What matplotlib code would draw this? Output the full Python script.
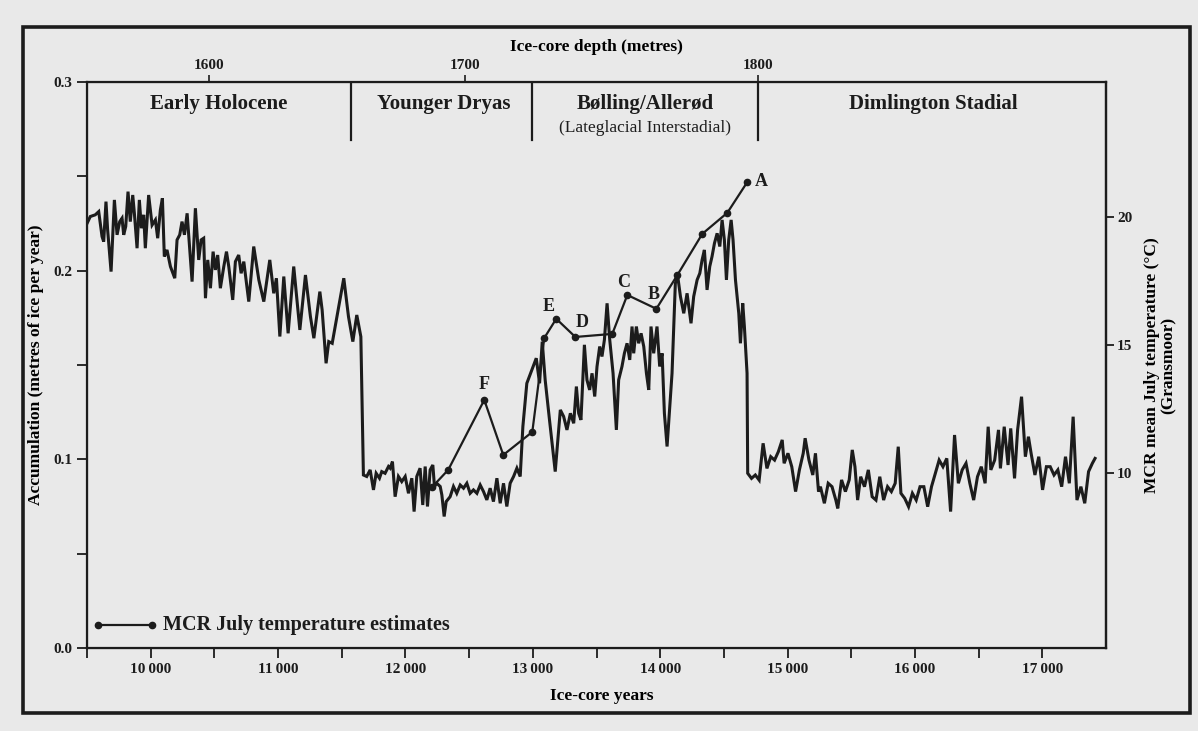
import numpy as np
import matplotlib.pyplot as plt
from matplotlib.patches import Rectangle

# Accumulation record (ice-core years, metres of ice per year)
acc_years = [
    9500, 9526, 9565, 9592, 9618, 9631, 9649, 9662, 9689, 9715, 9736, 9757, 9775, 9788, 9804,
    9822, 9840, 9859, 9872, 9893, 9911, 9927, 9945, 9958, 9984, 10011, 10037, 10055, 10076,
    10092, 10107, 10128, 10155, 10189, 10207, 10228, 10246, 10265, 10286, 10325, 10351, 10377,
    10396, 10416, 10430, 10448, 10469, 10490, 10508, 10526, 10547, 10574, 10595, 10613, 10644,
    10665, 10691, 10710, 10731, 10770, 10809, 10849, 10888, 10935, 10966, 10987, 11014, 11045,
    11079, 11123, 11171, 11215, 11254, 11281, 11328, 11346, 11377, 11398, 11425, 11469, 11516,
    11553, 11587, 11618, 11650,
    11670, 11696, 11723, 11749, 11770, 11796, 11814, 11840, 11867, 11880, 11898, 11919, 11945,
    11971, 11998, 12024, 12050, 12068, 12089, 12115, 12136, 12155, 12173, 12194, 12215, 12228,
    12246, 12273, 12286, 12304, 12320, 12351, 12377, 12403, 12430, 12456, 12482, 12508, 12534,
    12561, 12587, 12613, 12639, 12665, 12691, 12718, 12744, 12770, 12796, 12822, 12849, 12875,
    12901, 12922, 12953, 12993, 13027, 13053, 13074, 13097, 13131, 13176,
    13216, 13242, 13268, 13295, 13321, 13342, 13360, 13378, 13405, 13425, 13446, 13465, 13486,
    13504, 13525, 13543, 13562, 13583, 13604, 13630, 13656, 13674, 13700, 13719, 13740, 13761,
    13779, 13792, 13813, 13831, 13850, 13871, 13892, 13910, 13928, 13949, 13975, 13996, 14015,
    14033, 14054, 14093, 14119, 14138, 14159, 14185, 14211, 14242, 14263, 14290, 14311, 14329,
    14347, 14368, 14389, 14407, 14426, 14447, 14468, 14486, 14504, 14520, 14538, 14557, 14572,
    14591, 14617, 14630, 14648, 14661, 14682,
    14687, 14717, 14747, 14777, 14808, 14838, 14868, 14898, 14928, 14958, 14973, 15003, 15033,
    15063, 15093, 15123, 15138, 15168, 15198, 15219, 15243, 15258, 15289, 15319, 15349, 15379,
    15394, 15424, 15454, 15484, 15508, 15529, 15550, 15574, 15604, 15634, 15664, 15694, 15724,
    15754, 15785, 15815, 15845, 15869, 15890, 15920, 15950, 15980, 16010, 16040, 16070, 16100,
    16130, 16160, 16190, 16220, 16250, 16280, 16311, 16341, 16371, 16401, 16431, 16461, 16491,
    16521, 16551, 16575, 16596, 16626, 16656, 16671, 16701, 16731, 16752, 16782, 16806, 16837,
    16867, 16891, 16912, 16942, 16972, 17002, 17032, 17062, 17092, 17122, 17152, 17182, 17212,
    17242, 17272, 17303, 17333, 17363, 17393, 17414,
]
acc_values = [
    0.225, 0.2287, 0.2296, 0.2313, 0.2181, 0.2154, 0.2366, 0.2216, 0.1995, 0.2375, 0.2190,
    0.2260, 0.2278, 0.2190, 0.2234, 0.2419, 0.2260, 0.2401, 0.2304, 0.2119, 0.2375, 0.2225,
    0.2296, 0.2119, 0.2401, 0.2242, 0.2269, 0.2172, 0.2322, 0.2384, 0.2075, 0.2110, 0.2022,
    0.1960, 0.2163, 0.2190, 0.2260, 0.2190, 0.2304, 0.1942, 0.2331, 0.2057, 0.2163, 0.2172,
    0.1854, 0.2057, 0.1907, 0.2101, 0.2004, 0.2083, 0.1907, 0.2022, 0.2101, 0.2022, 0.1845,
    0.2048, 0.2083, 0.1986, 0.2048, 0.1836, 0.2128, 0.1951, 0.1836, 0.2057, 0.1880, 0.1960,
    0.1651, 0.1969, 0.1668, 0.2022, 0.1686, 0.1977, 0.1757, 0.1642, 0.1889, 0.1792, 0.1509,
    0.1624, 0.1615, 0.1783, 0.1960, 0.1756, 0.1624, 0.1765, 0.1650,
    0.0917, 0.0909, 0.0944, 0.0838, 0.0926, 0.0900, 0.0935, 0.0926, 0.0962, 0.0953, 0.0988,
    0.0802, 0.0909, 0.0882, 0.0909, 0.0820, 0.0900, 0.0723, 0.0909, 0.0953, 0.0758, 0.0962,
    0.0750, 0.0944, 0.0970, 0.0856, 0.0873, 0.0856, 0.0811, 0.0697, 0.0776, 0.0802, 0.0856,
    0.0820, 0.0864, 0.0847, 0.0873, 0.0820, 0.0838, 0.0820, 0.0864, 0.0829, 0.0785, 0.0847,
    0.0776, 0.0900, 0.0767, 0.0873, 0.0750, 0.0873, 0.0909, 0.0953, 0.0909, 0.1174, 0.1403,
    0.1474, 0.1536, 0.1403, 0.1624, 0.1421, 0.1209, 0.0935,
    0.1262, 0.1227, 0.1156, 0.1244, 0.1191, 0.1386, 0.1244, 0.1209, 0.1607, 0.1421, 0.1368,
    0.1456, 0.1333, 0.1492, 0.1598, 0.1545, 0.1633, 0.1827, 0.1633, 0.1456, 0.1156, 0.1421,
    0.1492, 0.1562, 0.1615, 0.1527, 0.1704, 0.1562, 0.1704, 0.1615, 0.1668, 0.1598, 0.1456,
    0.1368, 0.1704, 0.1562, 0.1704, 0.1492, 0.1562, 0.1244, 0.1068, 0.1456, 0.1933, 0.1969,
    0.1863, 0.1774, 0.1880, 0.1721, 0.1863, 0.1951, 0.1986, 0.2057, 0.2110, 0.1898, 0.2022,
    0.2075, 0.2145, 0.2198, 0.2128, 0.2269, 0.2163, 0.1951, 0.2163, 0.2269, 0.2163, 0.1951,
    0.1774, 0.1615, 0.1827, 0.1704, 0.1456,
    0.0926, 0.0899, 0.0917, 0.0890, 0.1085, 0.0952, 0.1014, 0.0996, 0.1041, 0.1103, 0.0979,
    0.1032, 0.0961, 0.0829, 0.0944, 0.1032, 0.1112, 0.0996, 0.0917, 0.1032, 0.0829, 0.0855,
    0.0767, 0.0873, 0.0855, 0.0784, 0.0740, 0.0891, 0.0829, 0.0891, 0.1050, 0.0961, 0.0784,
    0.0908, 0.0855, 0.0944, 0.0802, 0.0784, 0.0908, 0.0784, 0.0855, 0.0829, 0.0873, 0.1067,
    0.0820, 0.0793, 0.0749, 0.0820, 0.0784, 0.0855, 0.0855, 0.0749, 0.0855, 0.0926, 0.0996,
    0.0961, 0.1005, 0.0723, 0.1129, 0.0873, 0.0944, 0.0979, 0.0873, 0.0784, 0.0908, 0.0961,
    0.0873, 0.1173, 0.0944, 0.0996, 0.1156, 0.0952, 0.1173, 0.0970, 0.1164, 0.0899, 0.1156,
    0.1332, 0.1014, 0.1120, 0.1032, 0.0917, 0.1014, 0.0838, 0.0961, 0.0961, 0.0917, 0.0944,
    0.0855, 0.1014, 0.0873, 0.1226, 0.0784, 0.0855, 0.0767, 0.0935, 0.0979, 0.1005,
]

# MCR July temperature estimates (Gransmoor)
mcr_years = [12210, 12336, 12619, 12768, 12996, 13090, 13184, 13334, 13624, 13742, 13970,
             14135, 14331, 14527, 14685]
mcr_temps = [9.45, 10.12, 12.85, 10.70, 11.60, 15.27, 16.02, 15.31, 15.43, 16.95, 16.41,
             17.73, 19.34, 20.16, 21.37]
mcr_labels = ['', '', 'F', '', '', '', 'E', 'D', '', 'C', 'B', '', '', '', 'A']

# Ice-core depth axis (metres) and where those depths fall in years
depth_labels = ['1600', '1700', '1800']
depth_years = [10455, 12469, 14771]

# Climate stages
stage_bounds = [11576, 12990, 14771]
stage_names = ['Early Holocene', 'Younger Dryas', 'Bølling/Allerød', 'Dimlington Stadial']
stage_centres = [10537, 12297, 13883, 16146]

year_ticks = [10000, 11000, 12000, 13000, 14000, 15000, 16000, 17000]
year_labels = ['10\u2009000', '11\u2009000', '12\u2009000', '13\u2009000',
               '14\u2009000', '15\u2009000', '16\u2009000', '17\u2009000']

bg = '#e9e9e9'
ink = '#1c1c1c'
serif = ['Liberation Serif', 'DejaVu Serif']
plt.rcParams['font.family'] = serif
plt.rcParams['text.color'] = ink
plt.rcParams['axes.edgecolor'] = ink
plt.rcParams['xtick.color'] = ink
plt.rcParams['ytick.color'] = ink

fig = plt.figure(figsize=(11.98, 7.31), dpi=100, facecolor=bg)
ax = fig.add_axes([87 / 1198, 1 - 648 / 731, (1106 - 87) / 1198, (648 - 82) / 731])
ax.set_facecolor(bg)

# outer frame round the whole figure
fig.patches.append(Rectangle((23 / 1198, 1 - 713 / 731), (1190 - 23) / 1198, (713 - 27) / 731,
                             transform=fig.transFigure, fill=False, lw=2.6, ec=ink))

ax.plot(acc_years, acc_values, color=ink, lw=2.2, solid_joinstyle='miter')
ax.set_xlim(9500, 17500)
ax.set_ylim(0, 0.3)
ax.set_xticks(year_ticks, labels=year_labels)
ax.set_xticks(np.arange(9500, 17500, 500), minor=True)
ax.set_yticks([0.0, 0.1, 0.2, 0.3], labels=['0.0', '0.1', '0.2', '0.3'])
ax.set_yticks([0.05, 0.15, 0.25], minor=True)
ax.tick_params(which='both', direction='out', length=7, width=1.3, labelsize=11)
for lab in ax.get_xticklabels() + ax.get_yticklabels():
    lab.set_fontweight('bold')
for s in ax.spines.values():
    s.set_linewidth(1.6)

ax.set_xlabel('Ice-core years', fontsize=12.5, fontweight='bold')
ax.xaxis.set_label_coords(0.505, -0.07)
ax.set_ylabel('Accumulation (metres of ice per year)', fontsize=12.5, fontweight='bold')
ax.yaxis.set_label_coords(-0.042, 0.5)

# top axis: depth
sec = ax.secondary_xaxis('top')
sec.set_xticks(depth_years, labels=depth_labels)
sec.tick_params(direction='out', length=5, width=1.2, labelsize=11, pad=2)
for lab in sec.get_xticklabels():
    lab.set_fontweight('bold')
sec.set_xlabel('Ice-core depth (metres)', fontsize=12.5, fontweight='bold', labelpad=6)
sec.spines['top'].set_visible(False)

# stage separators and names
for b in stage_bounds:
    ax.plot([b, b], [0.3, 0.2693], color=ink, lw=1.6)
for name, c in zip(stage_names, stage_centres):
    ax.text(c, 0.2885, name, ha='center', va='center', fontsize=15, fontweight='bold')
ax.text(stage_centres[2], 0.2758, '(Lateglacial Interstadial)', ha='center', va='center',
        fontsize=12.5)

# right axis: MCR temperature
ax2 = ax.twinx()
ax2.set_ylim(3.16, 25.27)
ax2.plot(mcr_years, mcr_temps, color=ink, lw=1.6, marker='o', ms=4.5)
ax2.set_yticks([10, 15, 20], labels=['10', '15', '20'])
ax2.tick_params(direction='out', length=6, width=1.3, labelsize=11, pad=2)
for lab in ax2.get_yticklabels():
    lab.set_fontweight('bold')
ax2.spines['right'].set_linewidth(1.6)
ax2.set_ylabel('MCR mean July temperature (°C)\n(Gransmoor)', fontsize=12.5,
               fontweight='bold', multialignment='center', rotation=90, linespacing=1.1)
ax2.yaxis.set_label_coords(1.037, 0.5)

offsets = {'A': (14, 0), 'B': (-3, 14), 'C': (-4, 12), 'D': (7, 14), 'E': (-8, 12), 'F': (0, 15)}
for yr, t, lab in zip(mcr_years, mcr_temps, mcr_labels):
    if lab:
        ax2.annotate(lab, (yr, t), xytext=offsets[lab], textcoords='offset pixels',
                     ha='center', va='center', fontsize=13, fontweight='bold')

# legend drawn by hand like the original
ax.plot([9590, 10010], [0.0122, 0.0122], color=ink, lw=1.6, marker='o', ms=4.5)
ax.text(10100, 0.0122, 'MCR July temperature estimates', ha='left', va='center',
        fontsize=14.5, fontweight='bold')

fig.savefig('out.png', dpi=100, facecolor=bg)
